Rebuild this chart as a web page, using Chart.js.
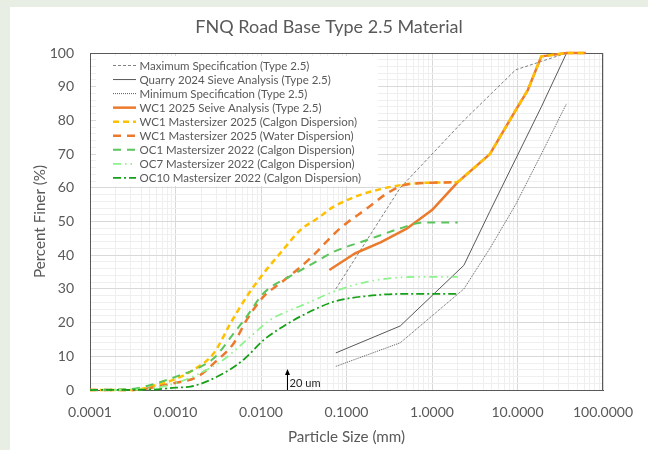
<!DOCTYPE html>
<html><head><meta charset="utf-8">
<script src="https://cdn.jsdelivr.net/npm/chart.js@4.4.1/dist/chart.umd.min.js"></script>
<style>
html,body{margin:0;padding:0;background:#E8EEE4;}
#wrap{width:648px;height:450px;position:relative;}
canvas{display:block;}
</style>
</head><body>
<div id="wrap"><canvas id="c" width="648" height="450"></canvas></div>
<script>
// ---------- texts ----------
const chartTitle = 'FNQ Road Base Type 2.5 Material';
const xAxisTitle = 'Particle Size (mm)';
const yAxisTitle = 'Percent Finer (%)';
const xMajorTicks = [0.0001, 0.001, 0.01, 0.1, 1, 10, 100];
const xTickLabels = ['0.0001', '0.0010', '0.0100', '0.1000', '1.0000', '10.0000', '100.0000'];
const yTickLabels = [0, 10, 20, 30, 40, 50, 60, 70, 80, 90, 100];
const markerText = '20 um';
const markerSize = 0.02;   // mm
const markerTop = 6.2;     // % (arrow height)

const seriesNames = [
  'Maximum Specification (Type 2.5)',
  'Quarry 2024 Sieve Analysis (Type 2.5)',
  'Minimum Specification (Type 2.5)',
  'WC1 2025 Seive Analysis (Type 2.5)',
  'WC1 Mastersizer 2025 (Calgon Dispersion)',
  'WC1 Mastersizer 2025 (Water Dispersion)',
  'OC1 Mastersizer 2022 (Calgon Dispersion)',
  'OC7 Mastersizer 2022 (Calgon Dispersion)',
  'OC10 Mastersizer 2022 (Calgon Dispersion)'
];

// ---------- data ----------
const maxSpecX = [0.075, 0.425, 2.36, 9.5, 19, 37.5];
const maxSpecY = [30, 60, 80, 95, 97.5, 100];

const quarryX = [0.075, 0.425, 2.36, 4.75, 9.5, 19, 37.5];
const quarryY = [11, 19, 37, 53, 68.5, 84, 100];

const minSpecX = [0.075, 0.425, 2.36, 4.75, 9.5, 19, 37.5];
const minSpecY = [7, 14, 30, 42, 55, 70, 85];

const wc1SieveX = [0.063, 0.125, 0.25, 0.5, 1.0, 2.0, 4.75, 9.5, 13.2, 19, 37.5, 63];
const wc1SieveY = [35.6, 40.5, 43.8, 47.8, 53.4, 61.7, 70, 83, 89, 99, 100, 100];

const wc1CalgonX = [0.0001, 0.0003, 0.0004, 0.0006, 0.00094, 0.0016, 0.0028, 0.0044, 0.0068, 0.0107, 0.018, 0.029, 0.045, 0.071, 0.145, 0.25, 0.43, 0.7, 1.0, 2.0];
const wc1CalgonY = [0, 0, 0.3, 1.5, 3.0, 5.9, 10.9, 19.8, 27.7, 34.6, 41.5, 47.5, 50.8, 54.4, 57.9, 59.6, 60.8, 61.4, 61.5, 61.7];

const wc1WaterX = [0.0001, 0.0003, 0.0004, 0.00094, 0.0018, 0.0028, 0.0048, 0.0068, 0.0107, 0.0168, 0.0263, 0.0377, 0.0845, 0.174, 0.30, 0.47, 0.8, 1.0, 2.0];
const wc1WaterY = [0, 0, 0.2, 2.0, 3.9, 7.9, 13.9, 20.8, 27.7, 31.7, 35.6, 39.1, 48.0, 53.9, 58.4, 60.8, 61.4, 61.5, 61.7];

const oc1X = [0.0001, 0.0003, 0.0006, 0.001, 0.0018, 0.0028, 0.0048, 0.0068, 0.0107, 0.022, 0.0377, 0.071, 0.174, 0.43, 0.73, 1.0, 2.0];
const oc1Y = [0, 0.3, 2.0, 3.9, 6.4, 9.4, 16.8, 21.8, 28.7, 33.8, 37.1, 41.0, 44.5, 48.0, 49.6, 49.7, 49.7];

const oc7X = [0.0001, 0.0004, 0.001, 0.0019, 0.0036, 0.0075, 0.0128, 0.022, 0.0344, 0.071, 0.174, 0.43, 1.0, 2.0];
const oc7Y = [0, 0.2, 2.0, 4.9, 8.9, 15.8, 20.8, 23.7, 25.7, 29.2, 32.1, 33.4, 33.6, 33.6];

const oc10X = [0.0001, 0.0005, 0.001, 0.0015, 0.0036, 0.0062, 0.0107, 0.018, 0.0315, 0.071, 0.174, 0.43, 1.0, 2.0];
const oc10Y = [0, 0.1, 0.7, 1.0, 4.9, 8.9, 14.8, 18.8, 22.3, 26.2, 27.9, 28.5, 28.5, 28.5];

// ---------- styles ----------
const FONT = 'Lato';
const TEXT = '#595959';
const seriesStyles = [
  {color: '#808080', width: 1,   dash: [3, 2],            smooth: false},
  {color: '#595959', width: 1,   dash: [],                smooth: false},
  {color: '#595959', width: 1,   dash: [1, 1],            smooth: false},
  {color: '#EB7A2C', width: 2.5, dash: [],                smooth: false},
  {color: '#FFC000', width: 2.5, dash: [6, 4],            smooth: true},
  {color: '#EB7A2C', width: 2.5, dash: [8, 6],            smooth: true},
  {color: '#5CC45C', width: 2,   dash: [8, 6],            smooth: true},
  {color: '#8CF28C', width: 1.75, dash: [8, 4, 1.5, 4, 1.5, 4], smooth: true},
  {color: '#179F17', width: 1.75, dash: [8, 3, 2, 3],     smooth: true}
];
const seriesX = [maxSpecX, quarryX, minSpecX, wc1SieveX, wc1CalgonX, wc1WaterX, oc1X, oc7X, oc10X];
const seriesY = [maxSpecY, quarryY, minSpecY, wc1SieveY, wc1CalgonY, wc1WaterY, oc1Y, oc7Y, oc10Y];

function fitFont(text, target) {
  const c = document.createElement('canvas').getContext('2d');
  c.font = '100px ' + FONT;
  return Math.round(100 * target / c.measureText(text).width * 10) / 10;
}
const titleSize = fitFont(chartTitle, 268);
const tickSize = fitFont('100.0000', 60);
const axisTitleSize = fitFont(xAxisTitle, 117);
const legendSize = fitFont(seriesNames[8], 222);
const markerSizeFont = fitFont(markerText, 31);

function isMajor(v) { const l = Math.log10(v); return Math.abs(l - Math.round(l)) < 1e-6; }
const xGrid = [];
for (let e = -4; e <= 1; e++) for (let m = 1; m <= 9; m++) xGrid.push(Number((m * Math.pow(10, e)).toPrecision(3)));
xGrid.push(100);

const pts = (xs, ys) => xs.map((x, k) => ({x: x, y: ys[k]}));
const datasets = seriesNames.map((name, i) => {
  const s = seriesStyles[i];
  return {
    label: name, data: pts(seriesX[i], seriesY[i]),
    borderColor: s.color, backgroundColor: s.color, borderWidth: s.width, borderDash: s.dash,
    pointRadius: 0, pointHoverRadius: 0, fill: false, clip: false,
    tension: s.smooth ? 0.4 : 0, cubicInterpolationMode: s.smooth ? 'monotone' : 'default',
    borderCapStyle: 'butt', borderJoinStyle: 'round', order: 100 - i * 2
  };
});
// WC1 calgon series continues along the sieve grading above the Mastersizer range
(function () {
  const lastX = wc1CalgonX[wc1CalgonX.length - 1];
  const xs = [], ys = [];
  wc1SieveX.forEach((x, k) => { if (x >= lastX) { xs.push(x); ys.push(wc1SieveY[k]); } });
  const s = seriesStyles[4];
  datasets.push({
    label: seriesNames[4] + ' (cont.)', data: pts(xs, ys),
    borderColor: s.color, backgroundColor: s.color, borderWidth: s.width, borderDash: s.dash,
    pointRadius: 0, pointHoverRadius: 0, fill: false, clip: false, tension: 0,
    borderCapStyle: 'butt', order: 100 - 4 * 2
  });
})();

const bgPlugin = {
  id: 'bg',
  beforeDraw(chart) {
    const ctx = chart.ctx;
    ctx.save();
    ctx.fillStyle = '#E8EEE4'; ctx.fillRect(0, 0, chart.width, chart.height);
    ctx.fillStyle = '#FFFFFF'; ctx.fillRect(10, 7, chart.width - 10, chart.height - 7);
    ctx.restore();
  }
};

const legendPlugin = {
  id: 'inlegend',
  beforeDatasetsDraw(chart) {
    const ctx = chart.ctx, a = chart.chartArea;
    ctx.save();
    ctx.fillStyle = '#FFFFFF';
    ctx.fillRect(96, 56, 282, 130);
    ctx.font = legendSize + 'px ' + FONT;
    ctx.textBaseline = 'middle';
    ctx.textAlign = 'left';
    seriesNames.forEach((name, i) => {
      const s = seriesStyles[i];
      const y = 65.5 + i * 14.05;
      ctx.beginPath();
      ctx.setLineDash(s.dash);
      ctx.lineWidth = s.width;
      ctx.strokeStyle = s.color;
      ctx.lineCap = 'butt';
      ctx.moveTo(113, y); ctx.lineTo(136, y);
      ctx.stroke();
      ctx.setLineDash([]);
      ctx.fillStyle = TEXT;
      ctx.fillText(name, 139.5, y + 0.5);
    });
    // plot frame
    ctx.strokeStyle = '#595959'; ctx.lineWidth = 1;
    ctx.strokeRect(Math.round(a.left) + 0.5, Math.round(a.top) + 0.5, Math.round(a.right - a.left) - 1, Math.round(a.bottom - a.top));
    ctx.restore();
  }
};

const markerPlugin = {
  id: 'marker',
  afterDatasetsDraw(chart) {
    const ctx = chart.ctx, xs = chart.scales.x, ys = chart.scales.y;
    const x = Math.round(xs.getPixelForValue(markerSize)) + 0.5;
    const y0 = ys.getPixelForValue(0), y1 = ys.getPixelForValue(markerTop);
    ctx.save();
    ctx.strokeStyle = '#000'; ctx.fillStyle = '#000'; ctx.lineWidth = 1;
    ctx.beginPath(); ctx.moveTo(x, y0); ctx.lineTo(x, y1 + 4); ctx.stroke();
    ctx.beginPath(); ctx.moveTo(x, y1); ctx.lineTo(x - 2.5, y1 + 6); ctx.lineTo(x + 2.5, y1 + 6); ctx.closePath(); ctx.fill();
    ctx.fillStyle = '#262626';
    ctx.font = markerSizeFont + 'px ' + FONT;
    ctx.textBaseline = 'alphabetic'; ctx.textAlign = 'left';
    ctx.fillText(markerText, x + 2, y0 - 3);
    ctx.restore();
  }
};

new Chart(document.getElementById('c'), {
  type: 'line',
  data: {datasets: datasets},
  plugins: [bgPlugin, legendPlugin, markerPlugin],
  options: {
    responsive: false, animation: false, devicePixelRatio: 1,
    layout: {padding: {left: 10, top: 0, right: 0, bottom: 0}},
    plugins: {
      legend: {display: false},
      tooltip: {enabled: false},
      title: {
        display: true, text: chartTitle, color: TEXT,
        font: {family: FONT, size: titleSize, weight: 'normal', lineHeight: 1.2},
        padding: {top: 26.7 - 0.6 * titleSize, bottom: 53 - (26.7 - 0.6 * titleSize) - 1.2 * titleSize}
      }
    },
    scales: {
      x: {
        type: 'logarithmic', position: 'bottom', min: 0.0001, max: 100,
        afterBuildTicks: s => { s.ticks = xGrid.map(v => ({value: v, major: isMajor(v)})); },
        afterFit: s => { s.height = 60; },
        ticks: {
          autoSkip: false, maxRotation: 0, minRotation: 0, color: TEXT,
          padding: 22 - 0.6 * tickSize,
          font: {family: FONT, size: tickSize},
          callback: v => { const i = xMajorTicks.findIndex(m => Math.abs(m - v) / m < 1e-6); return i >= 0 ? xTickLabels[i] : ''; }
        },
        grid: {drawTicks: false, lineWidth: 1, color: c => (c.tick && isMajor(c.tick.value)) ? '#D9D9D9' : '#EFEFEF'},
        border: {display: true, color: '#595959', width: 1},
        title: {display: true, text: xAxisTitle, color: TEXT, font: {family: FONT, size: axisTitleSize, lineHeight: 1.2},
                padding: {top: 0, bottom: 13.3 - 0.6 * axisTitleSize}}
      },
      y: {
        type: 'linear', position: 'left', min: 0, max: 100,
        afterFit: s => { s.width = 80; },
        ticks: {
          stepSize: 2, autoSkip: false, maxTicksLimit: 100, padding: 16, color: TEXT,
          font: {family: FONT, size: tickSize},
          callback: v => yTickLabels.includes(v) ? String(v) : ''
        },
        grid: {drawTicks: false, lineWidth: 1, color: c => (c.tick && c.tick.value % 10 === 0) ? '#D9D9D9' : '#EFEFEF'},
        border: {display: true, color: '#595959', width: 1},
        title: {display: true, text: yAxisTitle, color: TEXT, font: {family: FONT, size: axisTitleSize, lineHeight: 1.2},
                padding: {top: 30 - 0.6 * axisTitleSize, bottom: 0}}
      },
      yR: {
        type: 'linear', position: 'right', display: true,
        afterFit: s => { s.width = 45; },
        ticks: {display: false}, grid: {display: false, drawTicks: false}, border: {display: false},
        title: {display: false}
      }
    }
  }
});
</script>
</body></html>
